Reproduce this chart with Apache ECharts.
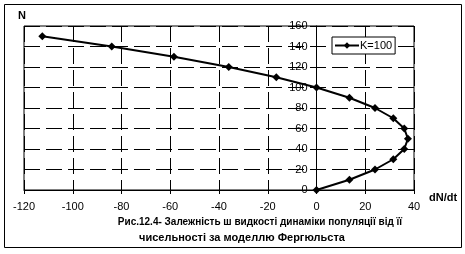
<!DOCTYPE html>
<html><head><meta charset="utf-8">
<script src="https://cdn.jsdelivr.net/npm/echarts@6/dist/echarts.min.js"></script>
<style>html,body{margin:0;padding:0;background:#fff}#c{width:465px;height:254px}</style>
</head><body><div id="c"></div>
<script>
// N values (population size)
const nValues = [0, 10, 20, 30, 40, 50, 60, 70, 80, 90, 100, 110, 120, 130, 140, 150];
// dN/dt values
const rateValues = [0, 13.5, 24, 31.5, 36, 37.5, 36, 31.5, 24, 13.5, 0, -16.5, -36, -58.5, -84, -112.5];
const seriesName = 'K=100';
const xTicks = {min: -120, max: 40, step: 20};
const yTicks = {min: 0, max: 160, step: 20};
const titleLine1 = 'Рис.12.4- Залежність ш видкості динаміки популяції від її';
const titleLine2 = 'чисельності за моделлю Фергюльста';

const font = '"Liberation Sans", Arial, sans-serif';
const chart = echarts.init(document.getElementById('c'));
const dash = [16, 6];
const gridLeft = 24, gridRight = 51;
const plotW = 465 - gridLeft - gridRight;
// y axis crosses the x axis at dN/dt = 0
const yAxisOffset = -plotW * (0 - xTicks.min) / (xTicks.max - xTicks.min);
chart.setOption({
  animation: false,
  backgroundColor: '#fff',
  grid: {left: gridLeft, top: 26, right: gridRight, bottom: 64, show: true, borderColor: '#000', borderWidth: 1, backgroundColor: 'transparent'},
  legend: {
    data: [seriesName], left: 332, top: 37, orient: 'vertical',
    backgroundColor: '#fff', borderColor: '#000', borderWidth: 1,
    padding: [3, 3, 3, 2], itemWidth: 24, itemHeight: 8, itemGap: 2,
    textStyle: {fontFamily: font, fontSize: 11, color: '#000', padding: [0, 0, 0, -4]}
  },
  xAxis: {
    type: 'value', min: xTicks.min, max: xTicks.max, interval: xTicks.step,
    axisLine: {onZero: false, lineStyle: {color: '#000', width: 1}},
    axisTick: {show: true, length: 4, lineStyle: {color: '#000'}},
    axisLabel: {fontFamily: font, fontSize: 11, color: '#000', margin: 11},
    splitLine: {show: true, lineStyle: {color: '#000', type: dash, width: 1}}
  },
  yAxis: {
    type: 'value', min: yTicks.min, max: yTicks.max, interval: yTicks.step,
    position: 'left', offset: yAxisOffset,
    axisLine: {onZero: false, lineStyle: {color: '#000', width: 1}},
    axisTick: {show: true, length: 4, lineStyle: {color: '#000'}},
    axisLabel: {fontFamily: font, fontSize: 11, color: '#000', margin: 9},
    splitLine: {show: true, lineStyle: {color: '#000', type: dash, width: 1}}
  },
  series: [{
    name: seriesName, type: 'line',
    data: nValues.map((n, i) => [rateValues[i], n]),
    symbol: 'diamond', symbolSize: 8, showSymbol: true,
    lineStyle: {color: '#000', width: 2},
    itemStyle: {color: '#000'},
    z: 5
  }],
  graphic: [
    {type: 'rect', shape: {x: 4.5, y: 4.5, width: 457, height: 243}, style: {fill: 'none', stroke: '#000', lineWidth: 1}, silent: true},
    {type: 'text', left: 18, top: 10, style: {text: 'N', fontFamily: font, fontSize: 11, fontWeight: 'bold', fill: '#000'}},
    {type: 'text', left: 429, top: 192, style: {text: 'dN/dt', fontFamily: font, fontSize: 11, fontWeight: 'bold', fill: '#000'}},
    {type: 'text', x: 260, y: 222, style: {text: titleLine1, fontFamily: font, fontSize: 10, fontWeight: 'bold', fill: '#000', align: 'center', verticalAlign: 'middle'}},
    {type: 'text', x: 242, y: 238, style: {text: titleLine2, fontFamily: font, fontSize: 11, fontWeight: 'bold', fill: '#000', align: 'center', verticalAlign: 'middle'}}
  ]
});
</script></body></html>
